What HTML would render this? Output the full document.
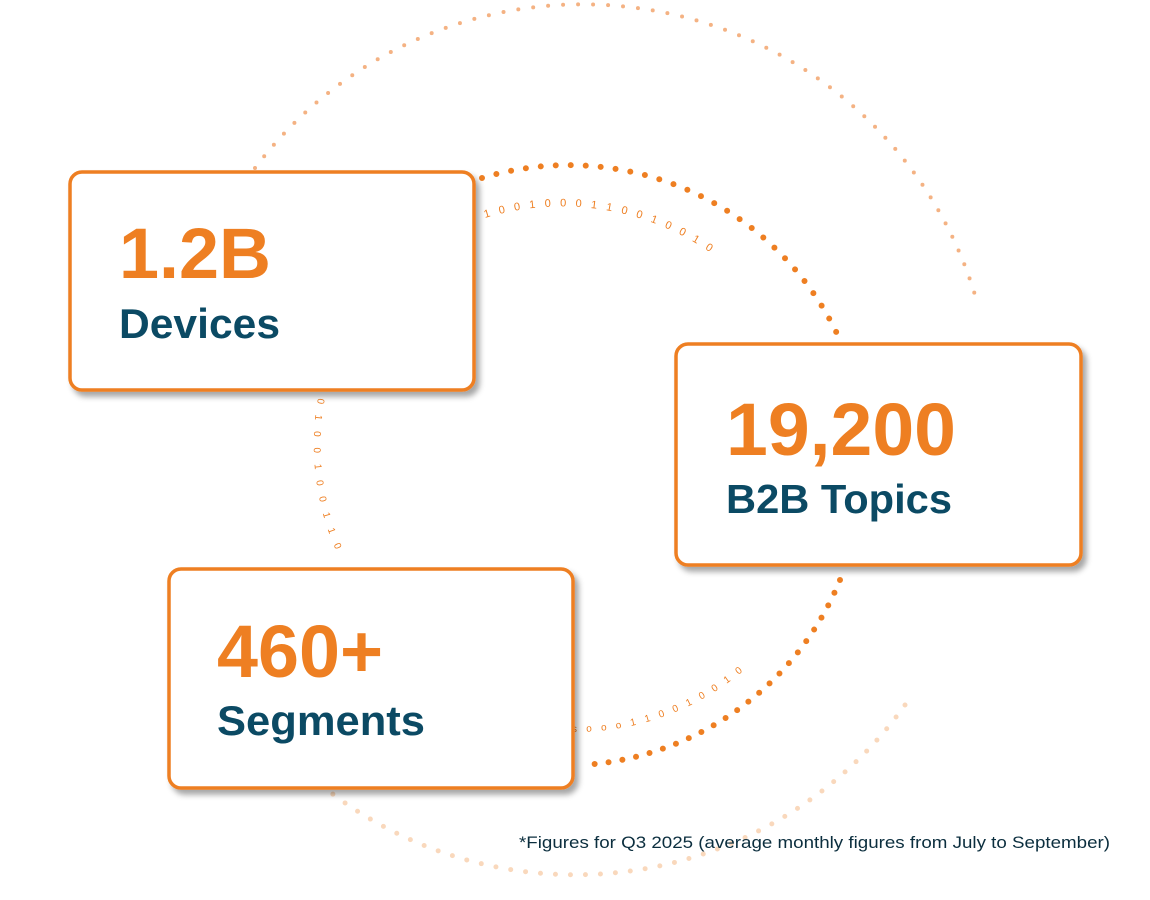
<!DOCTYPE html>
<html><head><meta charset="utf-8"><style>
html,body{margin:0;padding:0;background:#fff;}
svg{display:block;}
</style></head><body>
<svg width="1150" height="900" viewBox="0 0 1150 900" xmlns="http://www.w3.org/2000/svg" font-family="'Liberation Sans', sans-serif">
<defs>
<filter id="sh" x="-10%" y="-10%" width="130%" height="130%">
<feDropShadow dx="4" dy="5" stdDeviation="3" flood-color="#000" flood-opacity="0.35"/>
</filter>
<path id="b1" d="M485,218 A262,262 0 0 1 718,258"/>
<path id="b2" d="M318,398 A262,262 0 0 0 338,555"/>
<path id="b3" d="M572,732 A262,262 0 0 0 742,672"/>
</defs>
<path d="M255,168 A410,410 0 0 1 975,295" fill="none" stroke="#F4B283" stroke-width="4" stroke-linecap="round" stroke-dasharray="0 15"/>
<path d="M905,705 A405,405 0 0 1 330,792" fill="none" stroke="#F9D8BC" stroke-width="5" stroke-linecap="round" stroke-dasharray="0 15"/>
<path d="M482,178 A298,298 0 0 1 840,340" fill="none" stroke="#EE7F22" stroke-width="6" stroke-linecap="round" stroke-dasharray="0 15"/>
<path d="M840,580 A298,298 0 0 1 582,765" fill="none" stroke="#EE7F22" stroke-width="6" stroke-linecap="round" stroke-dasharray="0 14"/>
<text font-size="11" fill="#EE7F22"><textPath href="#b1" textLength="235" lengthAdjust="spacing">1 0 0 1 0 0 0 1 1 0 0 1 0 0 1 0</textPath></text>
<text font-size="10" fill="#EE7F22"><textPath href="#b2" textLength="155" lengthAdjust="spacing">0 1 0 0 1 0 0 1 1 0</textPath></text>
<text font-size="10" fill="#EE7F22"><textPath href="#b3" textLength="185" lengthAdjust="spacing">s o o o 1 1 0 0 1 0 0 1 0</textPath></text>
<rect x="70" y="172" width="404" height="218" rx="12" fill="#fff" stroke="#EE7F22" stroke-width="3.5" filter="url(#sh)"/>
<rect x="676" y="344" width="405" height="221" rx="12" fill="#fff" stroke="#EE7F22" stroke-width="3.5" filter="url(#sh)"/>
<rect x="169" y="569" width="404" height="219" rx="12" fill="#fff" stroke="#EE7F22" stroke-width="3.5" filter="url(#sh)"/>
<text x="119" y="278" font-size="71" font-weight="bold" fill="#EE7F22" textLength="152" lengthAdjust="spacingAndGlyphs">1.2B</text>
<text x="119" y="338" font-size="42" font-weight="bold" fill="#0B4A64" textLength="161" lengthAdjust="spacingAndGlyphs">Devices</text>
<text x="726" y="455" font-size="74" font-weight="bold" fill="#EE7F22" textLength="230" lengthAdjust="spacingAndGlyphs">19,200</text>
<text x="726" y="513" font-size="41" font-weight="bold" fill="#0B4A64" textLength="226" lengthAdjust="spacingAndGlyphs">B2B Topics</text>
<text x="217" y="677" font-size="74" font-weight="bold" fill="#EE7F22" textLength="166" lengthAdjust="spacingAndGlyphs">460+</text>
<text x="217" y="735" font-size="42" font-weight="bold" fill="#0B4A64" textLength="208" lengthAdjust="spacingAndGlyphs">Segments</text>
<text x="519" y="848" font-size="17" fill="#0B2E3E" textLength="591" lengthAdjust="spacingAndGlyphs">*Figures for Q3 2025 (average monthly figures from July to September)</text>
</svg>
</body></html>
